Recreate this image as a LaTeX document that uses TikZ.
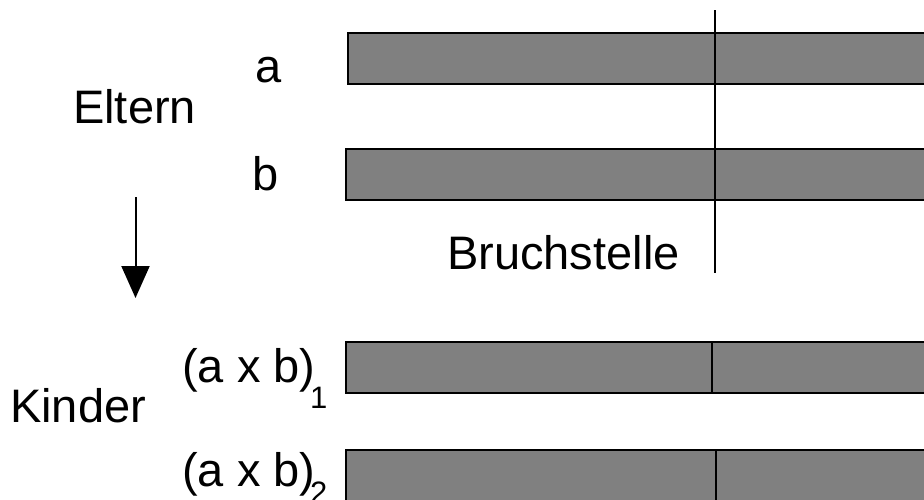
\documentclass[tikz,border=0pt]{standalone}
\usepackage{fontspec}
\setmainfont{Liberation Sans}
\usetikzlibrary{arrows.meta}
\definecolor{bargray}{HTML}{808080}
\tikzset{
  lbl/.style={inner sep=0pt, anchor=base west, font=\fontsize{47}{56}\selectfont},
  sub/.style={inner sep=0pt, anchor=base west, font=\fontsize{31}{36}\selectfont},
  bar/.style={fill=bargray, draw=black, line width=2.5pt},
  cut/.style={draw=black, line width=2pt},
}
\begin{document}
\begin{tikzpicture}[x=1pt, y=-1pt]
\clip (0,0) rectangle (924,499);
\fill[white] (0,0) rectangle (924,499);
% parents
\path[bar] (935,33) -- (348,33) -- (348,84) -- (935,84);
\path[bar] (935,149) -- (346,149) -- (346,200) -- (935,200);
\coordinate (ltop) at (715,10);
\coordinate (lbot) at (715,273);
\draw[cut] (ltop) -- (lbot);
% children
\path[bar] (935,342) -- (346,342) -- (346,393) -- (935,393);
\draw[cut] (712,342) -- (712,393);
\path[bar] (935,450) -- (346,450) -- (346,520) -- (935,520);
\draw[cut] (716,450) -- (716,520);
% labels
\node[lbl] (eltern) at (73,123) {Eltern};
\node[lbl] (la) at (255,82) {a};
\node[lbl] (lb) at (252,190) {b};
\node[lbl] (bruch) at (447,269) {Bruchstelle};
\node[lbl] (kinder) at (10,422) {Kinder};
\node[lbl] (c1) at (182,382) {(a x b)};
\node[sub] (c1s) at (310,408) {1};
\node[lbl] (c2) at (182,486) {(a x b)};
\node[sub] (c2s) at (310,503) {2};
% arrow
\coordinate (atop) at (135.5,197);
\coordinate (abot) at (135.5,298);
\draw[line width=2pt, -{Triangle[length=32pt,width=28pt]}] (atop) -- (abot);
\end{tikzpicture}
\end{document}
